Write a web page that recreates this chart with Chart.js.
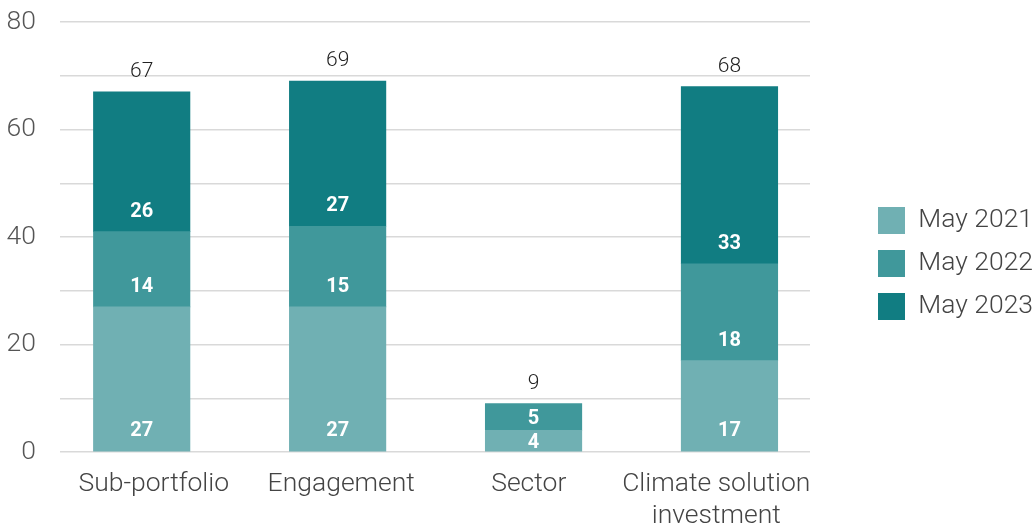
<!DOCTYPE html>
<html>
<head>
<meta charset="utf-8">
<script src="https://cdn.jsdelivr.net/npm/chart.js@4/dist/chart.umd.min.js"></script>
<style>
  html, body { margin: 0; padding: 0; background: #ffffff; }
  #wrap { width: 1034px; height: 527px; position: relative; }
</style>
</head>
<body>
<div id="wrap"><canvas id="chart"></canvas></div>
<script>
// Categories and values per reporting date
const categories = ['Sub-portfolio', 'Engagement', 'Sector', ['Climate solution', 'investment']];
const may2021 = [27, 27, 4, 17];
const may2022 = [14, 15, 5, 18];
const may2023 = [26, 27, null, 33];
const seriesNames = ['May 2021', 'May 2022', 'May 2023'];
const seriesColors = ['#70b0b3', '#40989b', '#117d82'];
const yTicks = { min: 0, max: 80, step: 10, labelEvery: 20 };

const FONT = 'Roboto, "Noto Sans", "DejaVu Sans", sans-serif';
const LEGEND_WIDTH = 172;
const LEGEND_GAP = 52;

// Fixed legend width so the swatches sit near the right edge
const legendWidthPlugin = {
  id: 'legendWidth',
  afterInit(chart) {
    const lg = chart.legend;
    if (!lg) return;
    const fit = lg.fit;
    lg.fit = function () {
      fit.call(this);
      this.width = LEGEND_WIDTH;
    };
  }
};

// Segment values inside each bar (near its base), totals above each stack
const labelPlugin = {
  id: 'barLabels',
  afterDatasetsDraw(chart) {
    const { ctx } = chart;
    ctx.save();
    ctx.textAlign = 'center';
    ctx.textBaseline = 'alphabetic';
    ctx.font = `bold 20px ${FONT}`;
    ctx.fillStyle = '#ffffff';
    const digitHeight = 14.2;
    chart.data.datasets.forEach((ds, di) => {
      const meta = chart.getDatasetMeta(di);
      meta.data.forEach((bar, i) => {
        const v = ds.data[i].y;
        if (v == null || v === 0) return;
        const h = bar.base - bar.y;
        const lift = Math.min(15, Math.max(3, (h - digitHeight) / 2));
        ctx.fillText(String(v), bar.x, bar.base - lift);
      });
    });
    // totals
    ctx.font = `300 21px ${FONT}`;
    ctx.fillStyle = '#222222';
    categories.forEach((c, i) => {
      let total = 0, topY = Infinity, x = 0;
      chart.data.datasets.forEach((ds, di) => {
        const v = ds.data[i].y;
        if (v == null) return;
        total += v;
        const bar = chart.getDatasetMeta(di).data[i];
        topY = Math.min(topY, bar.y);
        x = bar.x;
      });
      ctx.fillText(String(total), x, topY - 14.7);
    });
    ctx.restore();
  }
};

const datasets = [may2021, may2022, may2023].map((d, k) => ({
  label: seriesNames[k],
  data: d.map((v, i) => ({ x: i, y: v })),
  backgroundColor: seriesColors[k],
  borderWidth: 0,
  barThickness: 96.5
}));

const hiddenAxis = {
  grid: { display: false, drawTicks: false },
  border: { display: false },
  ticks: { display: false }
};

new Chart(document.getElementById('chart'), {
  type: 'bar',
  data: { labels: categories, datasets },
  plugins: [legendWidthPlugin, labelPlugin],
  options: {
    responsive: true,
    maintainAspectRatio: false,
    animation: false,
    layout: { padding: 0 },
    plugins: {
      tooltip: { enabled: false },
      legend: {
        position: 'right',
        align: 'center',
        labels: {
          boxWidth: 27,
          boxHeight: 27,
          padding: 16,
          color: '#444444',
          font: { family: FONT, size: 26.5, weight: '300' }
        }
      }
    },
    scales: {
      // positions of the bars along the category direction
      x: {
        type: 'linear',
        stacked: true,
        offset: false,
        min: -0.417,
        max: 3.411,
        display: false
      },
      // category names under the plot
      names: {
        type: 'category',
        position: 'bottom',
        labels: categories,
        offset: true,
        grid: { display: false, drawTicks: false },
        border: { display: false },
        afterFit: s => { s.height = 75; },
        ticks: {
          color: '#444444',
          padding: 16,
          maxRotation: 0,
          autoSkip: false,
          font: { family: FONT, size: 26.5, weight: '300', lineHeight: 1.2075 }
        }
      },
      y: {
        stacked: true,
        min: yTicks.min,
        max: yTicks.max,
        grid: { color: '#d9d9d9', lineWidth: 1.5, drawTicks: false },
        border: { display: false },
        afterFit: s => { s.width = 60; s.paddingTop = 0; s.paddingBottom = 0; },
        ticks: {
          stepSize: yTicks.step,
          padding: 24,
          color: '#555555',
          font: { family: FONT, size: 26.5, weight: '300' },
          callback: v => (v % yTicks.labelEvery === 0 ? String(v) : '')
        }
      },
      // empty space above the plot
      topSpace: Object.assign({ type: 'linear', position: 'top', afterFit: s => { s.height = 22; } }, hiddenAxis),
      // empty space between the plot and the legend
      gap: Object.assign({ type: 'linear', position: 'right', afterFit: s => { s.width = LEGEND_GAP; } }, hiddenAxis)
    }
  }
});
</script>
</body>
</html>
